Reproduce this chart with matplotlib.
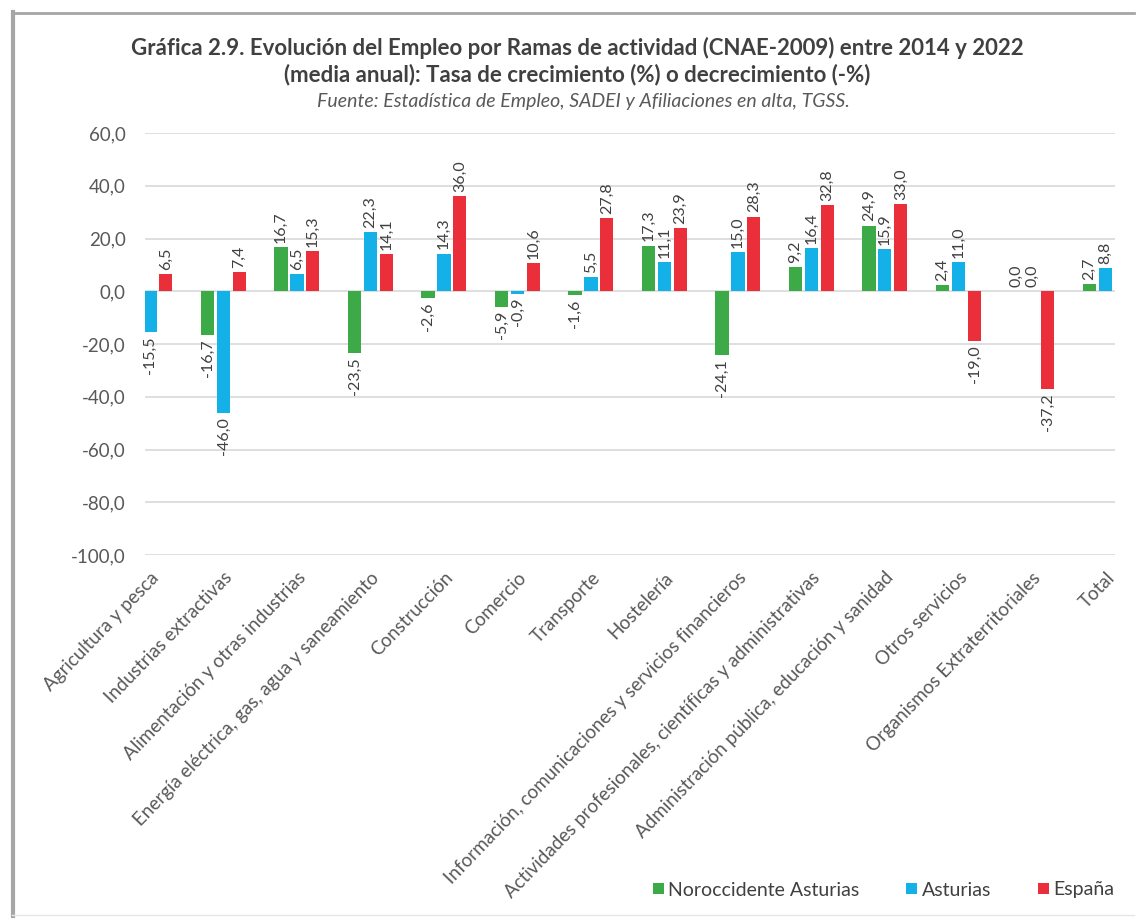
import numpy as np
import matplotlib
matplotlib.use("Agg")
import matplotlib.pyplot as plt
from matplotlib.lines import Line2D
from matplotlib.patches import Patch

plt.rcParams["font.family"] = ["Lato", "DejaVu Sans"]

categorias = ["Agricultura y pesca", "Industrias extractivas", "Alimentación y otras industrias",
              "Energía eléctrica, gas, agua y saneamiento", "Construcción", "Comercio", "Transporte",
              "Hostelería", "Información, comunicaciones y servicios financieros",
              "Actividades profesionales, científicas y administrativas",
              "Administración pública, educación y sanidad", "Otros servicios",
              "Organismos Extraterritoriales", "Total"]
noroccidente = [np.nan, -16.7, 16.7, -23.5, -2.6, -5.9, -1.6, 17.3, -24.1, 9.2, 24.9, 2.4, 0.0, 2.7]
asturias = [-15.5, -46.0, 6.5, 22.3, 14.3, -0.9, 5.5, 11.1, 15.0, 16.4, 15.9, 11.0, 0.0, 8.8]
espana = [6.5, 7.4, 15.3, 14.1, 36.0, 10.6, 27.8, 23.9, 28.3, 32.8, 33.0, -19.0, -37.2, np.nan]
series = ["Noroccidente Asturias", "Asturias", "España"]
colores = ["#3DAA48", "#14B1E9", "#EA2F3B"]
yticks = [60, 40, 20, 0, -20, -40, -60, -80, -100]

fig = plt.figure(figsize=(11.38, 9.19), dpi=100)
ax = fig.add_axes([145 / 1138, 1 - 555 / 919, (1115 - 145) / 1138, (555 - 133) / 919])

x = np.arange(len(categorias))
ancho = 0.178
desp = 0.217
for k, (vals, col) in enumerate(zip([noroccidente, asturias, espana], colores)):
    pos = x + (k - 1) * desp
    ax.bar(pos, vals, width=ancho, color=col, zorder=3)
    for xi, v in zip(pos, vals):
        if np.isnan(v):
            continue
        txt = f"{v:.1f}".replace(".", ",")
        if v >= 0:
            ax.annotate(txt, (xi, v), xytext=(0, 3), textcoords="offset points",
                        rotation=90, ha="center", va="bottom", fontsize=11.5, color="#404040")
        else:
            ax.annotate(txt, (xi, v), xytext=(0, -3), textcoords="offset points",
                        rotation=90, ha="center", va="top", fontsize=11.5, color="#404040")

ax.set_xlim(-0.068, 13.13)
ax.set_ylim(-100, 60)
ax.set_yticks(yticks)
ax.set_yticklabels([f"{t:.1f}".replace(".", ",") for t in yticks], fontsize=13.5, color="#595959")
ax.set_xticks(x)
ax.set_xticklabels(categorias, rotation=46, ha="right", va="top", rotation_mode="anchor",
                   fontsize=13.5, color="#595959")
ax.tick_params(axis="both", length=0)
ax.tick_params(axis="y", pad=14)
ax.tick_params(axis="x", pad=10)
ax.grid(axis="y", color="#d9d9d9", lw=1.2, zorder=0)
for s in ax.spines.values():
    s.set_visible(False)

fig.text(0.507, 1 - 48 / 919, "Gráfica 2.9. Evolución del Empleo por Ramas de actividad (CNAE-2009) entre 2014 y 2022",
         ha="center", va="center", fontsize=16, fontweight="bold", color="#404040")
fig.text(0.507, 1 - 75 / 919, "(media anual): Tasa de crecimiento (%) o decrecimiento (-%)",
         ha="center", va="center", fontsize=16, fontweight="bold", color="#404040")
fig.text(0.513, 1 - 101 / 919, "Fuente: Estadística de Empleo, SADEI y Afiliaciones en alta, TGSS.",
         ha="center", va="center", fontsize=14, style="italic", color="#595959")

handles = [Patch(facecolor=c, edgecolor="none") for c in colores]
fig.legend(handles, series, loc="lower right", bbox_to_anchor=(1132 / 1138, 1 - 916 / 919), ncol=3,
           frameon=False, fontsize=14, handlelength=0.55, handleheight=0.55, handletextpad=0.25,
           columnspacing=2.4, labelcolor="#404040")

# marco de la gráfica
fig.add_artist(Line2D([13 / 1138, 13 / 1138], [1 - 12 / 919, 1 - 916 / 919], color="#a6a6a6", lw=3))
fig.add_artist(Line2D([12 / 1138, 1 - 4 / 1138], [1 - 13 / 919, 1 - 13 / 919], color="#a6a6a6", lw=2))
fig.add_artist(Line2D([12 / 1138, 1 - 4 / 1138], [1 - 915 / 919, 1 - 915 / 919], color="#e6e6e6", lw=1))

fig.savefig("out.png", dpi=100)
